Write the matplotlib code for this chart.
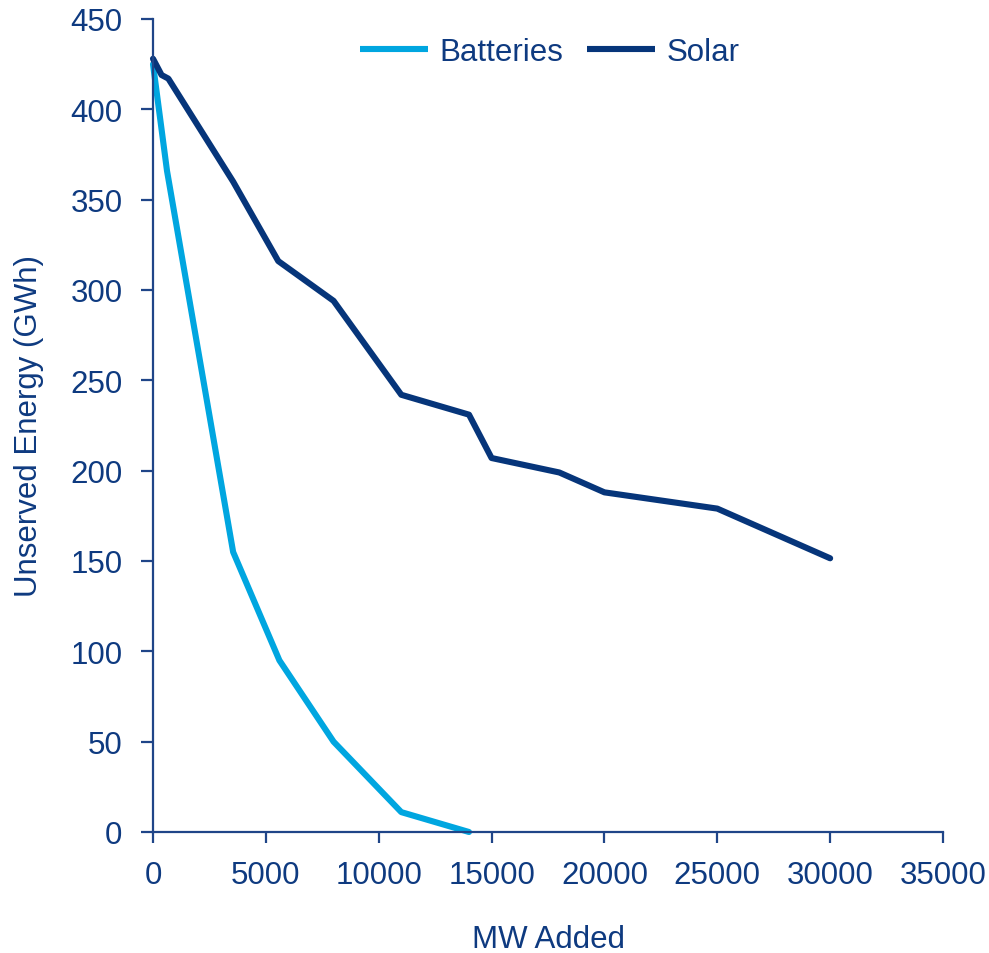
import matplotlib
matplotlib.use("Agg")
import matplotlib.pyplot as plt

# Capacity added (MW) and resulting unserved energy (GWh)
batteries_mw = [0, 620, 3550, 5600, 8000, 11000, 14000]
batteries_gwh = [425, 366, 155, 95, 50, 11, 0]

solar_mw = [0, 380, 680, 3550, 5550, 8000, 11000, 14000, 15000, 18000, 20000, 25000, 30000]
solar_gwh = [428, 419, 417, 360, 316, 294, 242, 231, 207, 199, 188, 179, 151.5]

x_ticks = [0, 5000, 10000, 15000, 20000, 25000, 30000, 35000]
y_ticks = [0, 50, 100, 150, 200, 250, 300, 350, 400, 450]

TEXT = "#0E3A80"
AXIS = "#1F4588"
BATT = "#00A6E0"
SOLAR = "#06357A"

plt.rcParams["font.family"] = ["Liberation Sans", "DejaVu Sans"]
plt.rcParams["font.size"] = 22

fig = plt.figure(figsize=(9.89, 9.54), dpi=100)
ax = fig.add_axes([153 / 989, 121 / 954, (943 - 153) / 989, (833 - 20) / 954])

ax.plot(batteries_mw, batteries_gwh, color=BATT, lw=4.4, label="Batteries",
        solid_capstyle="round", solid_joinstyle="round", clip_on=False)
ax.plot(solar_mw, solar_gwh, color=SOLAR, lw=4.4, label="Solar",
        solid_capstyle="round", solid_joinstyle="round", clip_on=False)

ax.set_xlim(0, 35000)
ax.set_ylim(0, 450)
ax.set_xticks(x_ticks)
ax.set_xticklabels([str(v) for v in x_ticks])
ax.set_yticks(y_ticks)
ax.set_yticklabels([str(v) for v in y_ticks])

for side in ("top", "right"):
    ax.spines[side].set_visible(False)
for side in ("left", "bottom"):
    ax.spines[side].set_color(AXIS)
    ax.spines[side].set_linewidth(1.6)

ax.tick_params(axis="both", colors=AXIS, labelcolor=TEXT, width=1.6, labelsize=22.5)
ax.tick_params(axis="y", length=9, pad=13)
ax.tick_params(axis="x", length=8, pad=12)

ax.set_xlabel("MW Added", color=TEXT, fontsize=22.5, labelpad=25)
ax.set_ylabel("Unserved Energy (GWh)", color=TEXT, fontsize=22.5, labelpad=19)

leg = ax.legend(loc="upper center", bbox_to_anchor=(0.502, 1.012), ncol=2, frameon=False,
                fontsize=22.5, handlelength=2.2, handletextpad=0.35, columnspacing=0.75)
for t in leg.get_texts():
    t.set_color(TEXT)
for h in leg.get_lines():
    h.set_linewidth(4.4)
    h.set_solid_capstyle("butt")

fig.savefig("out.png", dpi=100, facecolor="white")
